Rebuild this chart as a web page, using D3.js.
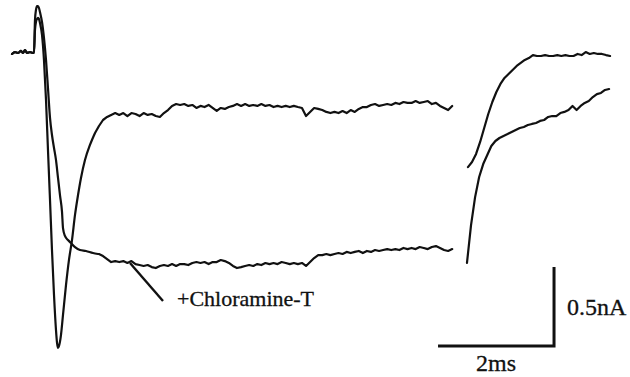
<!DOCTYPE html>
<meta charset="utf-8">
<style>
    body { margin: 0; background: #fff; }
    .trace {
        fill: none;
        stroke: #111;
        stroke-width: 2.2px;
        stroke-linejoin: round;
        stroke-linecap: round;
    }
    .scalebar {
        fill: none;
        stroke: #111;
        stroke-width: 3px;
    }
    .pointer {
        stroke: #111;
        stroke-width: 2.4px;
    }
</style>
<svg id="svg" width="630" height="377"></svg>

<script src="https://d3js.org/d3.v7.min.js"></script>
<script>

// time in microseconds, current in picoamps (0 = holding baseline)
var baseline = [[-379,-6],[-328,6],[-276,0],[-224,13],[-190,0],[-155,19],[-121,0],[-69,6],[-17,0],[0,0]];

// control: spike + fast recovery
var controlSpike = [[17,146],[34,196],[52,215],[69,222],[86,215],[103,190],[138,114],[172,-44],[207,-297],
    [241,-614],[276,-930],[310,-1247],[345,-1532],[379,-1753],[397,-1835],[414,-1867],[431,-1854],
    [465,-1785],[500,-1658],[552,-1468],[603,-1310],[655,-1184],[707,-1025],[759,-899],[810,-791],
    [879,-677],[965,-582],[1052,-506]];

// +Chloramine-T: spike, slow inactivation loss
var chloraSpike = [[17,209],[34,272],[52,297],[69,297],[86,285],[103,259],[138,196],[172,95],[207,-44],
    [241,-222],[276,-411],[310,-519],[345,-601],[379,-677],[414,-791],[448,-899],[483,-1006],
    [500,-1108],[534,-1158],[586,-1184],[638,-1203],[707,-1228],[793,-1247],[896,-1253],
    [1017,-1266],[1103,-1272]];

// sustained part, sampled every 70 us from 1120 us
var plateauStart = 1120, step = 70;
var controlPlateau = [-462,-424,-405,-392,-380,-392,-380,-399,-380,-386,-399,-380,-392,-386,-399,-405,
    -380,-361,-335,-323,-329,-323,-335,-329,-348,-335,-342,-329,-348,-367,-348,-354,-342,-335,-323,-335,
    -323,-335,-329,-335,-323,-335,-329,-342,-335,-342,-335,-342,-335,-342,-348,-399,-373,-348,-354,-361,
    -373,-380,-373,-380,-367,-380,-361,-373,-354,-342,-342,-329,-323,-335,-329,-323,-329,-316,-323,-310,
    -316,-316,-304,-316,-310,-304,-323,-316,-335,-348,-361,-335];
var chloraPlateau = [-1272,-1285,-1304,-1323,-1317,-1323,-1317,-1329,-1317,-1336,-1342,-1348,-1342,-1355,
    -1361,-1348,-1342,-1348,-1336,-1348,-1336,-1336,-1342,-1329,-1323,-1329,-1323,-1336,-1323,-1323,-1310,
    -1317,-1329,-1348,-1361,-1355,-1348,-1342,-1348,-1336,-1342,-1329,-1336,-1329,-1336,-1323,-1329,-1336,
    -1329,-1336,-1329,-1348,-1323,-1298,-1279,-1279,-1272,-1279,-1272,-1266,-1272,-1259,-1266,-1259,-1253,
    -1266,-1253,-1259,-1247,-1253,-1247,-1241,-1247,-1241,-1247,-1234,-1241,-1234,-1241,-1228,-1234,-1241,
    -1228,-1222,-1234,-1247,-1253,-1241];

// tail currents (right panel), also 70 us sampling
var controlTailStart = 7482;
var controlTail = [-722,-690,-639,-563,-475,-386,-310,-247,-196,-158,-133,-108,-82,-63,-44,-32,-13,-19,
    -19,-13,-19,-19,-13,-19,-13,-19,-19,-6,-13,6,-6,0,-6,-6,-13,-19];
var chloraTailStart = 7465;
var chloraTail = [-1329,-1089,-912,-785,-703,-646,-589,-557,-538,-525,-513,-500,-487,-475,-468,-456,-449,
    -443,-430,-424,-405,-399,-399,-380,-373,-361,-335,-361,-335,-316,-304,-279,-260,-253,-234,-228];

var scaleTime = 2000, scaleCurrent = 500;   // 2 ms, 0.5 nA
var scaleCorner = [8966, -1855];
var labelText = "+Chloramine-T";
var pointerFrom = [1655, -1329];

var serif = "'Liberation Serif', 'Times New Roman', serif";

var svg = d3.select("#svg");

var x = d3.scaleLinear().domain([0, 2000]).range([34, 150]);
var y = d3.scaleLinear().domain([0, -500]).range([53, 132]);

function sampled(start, vals) {
    return vals.map(function(v, i) { return [start + i * step, v]; });
}

var line = d3.line()
    .x(function(d) { return x(d[0]); })
    .y(function(d) { return y(d[1]); })
    .curve(d3.curveLinear);
var smooth = d3.line()
    .x(function(d) { return x(d[0]); })
    .y(function(d) { return y(d[1]); })
    .curve(d3.curveMonotoneX);

var control = baseline.concat(controlSpike);
var chlora = baseline.concat(chloraSpike);

svg.append("path").attr("class", "trace")
    .attr("d", smooth(control) + line(sampled(plateauStart, controlPlateau)).replace("M", "L"));
svg.append("path").attr("class", "trace")
    .attr("d", smooth(chlora) + line(sampled(plateauStart, chloraPlateau)).replace("M", "L"));

svg.append("path").attr("class", "trace").attr("d", line(sampled(controlTailStart, controlTail)));
svg.append("path").attr("class", "trace").attr("d", line(sampled(chloraTailStart, chloraTail)));

// label pointer
svg.append("line").attr("class", "pointer")
    .attr("x1", x(pointerFrom[0])).attr("y1", y(pointerFrom[1]))
    .attr("x2", x(pointerFrom[0]) + 33).attr("y2", y(pointerFrom[1]) + 38);
svg.append("text")
    .attr("x", x(pointerFrom[0]) + 47).attr("y", y(pointerFrom[1]) + 43)
    .attr("font-family", serif).attr("font-size", 22).attr("fill", "#111")
    .attr("stroke", "#111").attr("stroke-width", 0.3)
    .text(labelText);

// scale bar
var cx = x(scaleCorner[0]), cy = y(scaleCorner[1]);
svg.append("path").attr("class", "scalebar")
    .attr("d", "M" + x(scaleCorner[0] - scaleTime) + "," + cy + "L" + cx + "," + cy +
               "L" + cx + "," + y(scaleCorner[1] + scaleCurrent));
svg.append("text")
    .attr("x", cx + 13).attr("y", (cy + y(scaleCorner[1] + scaleCurrent)) / 2 + 8)
    .attr("font-family", serif).attr("font-size", 24).attr("fill", "#111")
    .attr("stroke", "#111").attr("stroke-width", 0.3)
    .text((scaleCurrent / 1000) + "nA");
svg.append("text")
    .attr("x", (x(scaleCorner[0] - scaleTime) + cx) / 2).attr("y", cy + 25)
    .attr("text-anchor", "middle")
    .attr("font-family", serif).attr("font-size", 24).attr("fill", "#111")
    .attr("stroke", "#111").attr("stroke-width", 0.3)
    .text((scaleTime / 1000) + "ms");
</script>
